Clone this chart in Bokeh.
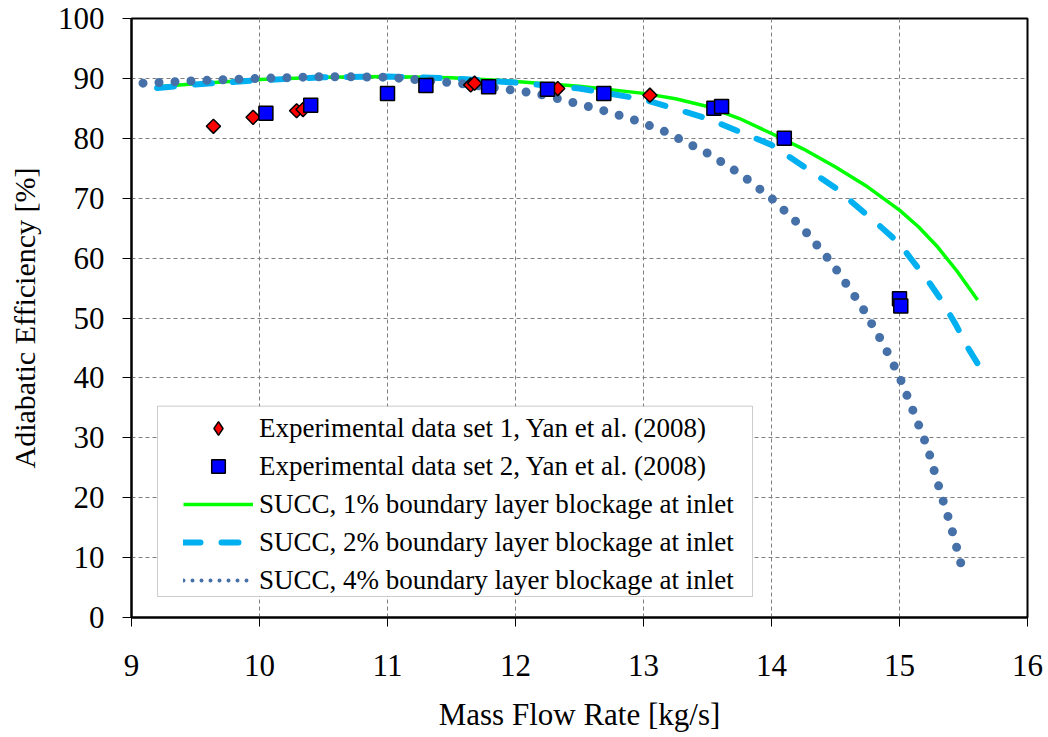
import numpy as np
from bokeh.plotting import figure
from bokeh.models import (Range1d, FixedTicker, Legend, LegendItem,
                          BoxAnnotation, ColumnDataSource)
from bokeh.embed import file_html
from bokeh.resources import INLINE

# ---------------- data ----------------
x_ticks = [9, 10, 11, 12, 13, 14, 15, 16]
y_ticks = [0, 10, 20, 30, 40, 50, 60, 70, 80, 90, 100]

set1_x = [9.64, 9.95, 10.29, 10.34, 11.65, 11.68, 12.33, 13.05]
set1_y = [82.0, 83.5, 84.6, 84.8, 88.9, 89.2, 88.3, 87.2]

set2_x = [10.05, 10.40, 11.00, 11.30, 11.79, 12.25, 12.69, 13.55, 13.61, 14.10, 15.00, 15.01]
set2_y = [84.2, 85.5, 87.5, 88.8, 88.6, 88.2, 87.5, 85.0, 85.3, 80.0, 53.2, 52.0]

c1_x = [9.2, 9.5, 10.0, 10.5, 11.0, 11.5, 12.0, 12.5, 13.0, 13.25, 13.5, 13.75, 14.0, 14.25, 14.5,
        14.75, 15.0, 15.15, 15.3, 15.45, 15.61]
c1_y = [88.6, 89.1, 89.8, 90.2, 90.3, 90.1, 89.5, 88.7, 87.5, 86.6, 85.3, 83.3, 80.8, 78.2, 75.2,
        71.9, 68.0, 65.2, 61.8, 57.8, 53.0]

c2_x = [9.2, 9.5, 10.0, 10.5, 11.0, 11.5, 12.0, 12.5, 13.0, 13.5, 14.0, 14.5, 14.85, 15.0, 15.1,
        15.22, 15.32, 15.44, 15.53, 15.61]
c2_y = [88.4, 89.0, 89.7, 90.2, 90.3, 90.0, 89.3, 88.3, 86.5, 83.3, 78.9, 71.7, 65.3, 62.4, 59.6,
        56.3, 53.2, 48.9, 45.2, 42.4]

c3_x = [9.09, 9.5, 10.0, 10.5, 11.0, 11.43, 11.55, 11.92, 12.16, 12.41, 12.66, 12.91, 13.15, 13.39, 13.51,
        13.76, 14.0, 14.24, 14.47, 14.7, 14.87, 15.0, 15.11, 15.22, 15.32, 15.4, 15.48]
c3_y = [89.2, 89.6, 90.0, 90.3, 90.2, 89.4, 89.2, 88.2, 87.5, 86.2, 84.8, 83.2, 81.3, 78.7, 77.4,
        74.0, 70.0, 65.1, 59.2, 52.1, 45.8, 40.2, 34.3, 28.3, 20.9, 15.4, 9.0]

labels = [
    "Experimental data set 1, Yan et al. (2008)",
    "Experimental data set 2, Yan et al. (2008)",
    "SUCC, 1% boundary layer blockage at inlet",
    "SUCC, 2% boundary layer blockage at inlet",
    "SUCC, 4% boundary layer blockage at inlet",
]
x_title = "Mass Flow Rate [kg/s]"
y_title = "Adiabatic Efficiency [%]"

FONT = "Liberation Serif"

p = figure(width=1048, height=737, x_range=Range1d(9, 16), y_range=Range1d(0, 100),
           output_backend="svg", toolbar_location=None,
           min_border_left=131, min_border_right=21, min_border_top=18, min_border_bottom=120)
p.background_fill_color = "white"
p.border_fill_color = "white"
p.outline_line_color = "black"
p.outline_line_width = 2

# grids
for g in (p.xgrid, p.ygrid):
    g.grid_line_color = "#808080"
    g.grid_line_dash = "4 3"
    g.grid_line_width = 1
p.xgrid.ticker = FixedTicker(ticks=x_ticks)
p.ygrid.ticker = FixedTicker(ticks=y_ticks)

# axes
p.xaxis.ticker = FixedTicker(ticks=x_ticks)
p.yaxis.ticker = FixedTicker(ticks=y_ticks)
for ax in (p.xaxis, p.yaxis):
    ax.axis_line_color = "black"
    ax.axis_line_width = 2
    ax.major_tick_line_color = "black"
    ax.major_tick_line_width = 1
    ax.major_tick_in = 0
    ax.major_tick_out = 9
    ax.minor_tick_line_color = None
    ax.major_label_text_font = FONT
    ax.major_label_text_font_style = "normal"
    ax.major_label_text_font_size = "31px"
    ax.major_label_text_color = "black"
    ax.axis_label_text_font = FONT
    ax.axis_label_text_font_style = "normal"
    ax.axis_label_text_color = "black"
p.xaxis.major_label_standoff = 28
p.yaxis.major_label_standoff = 18
p.xaxis.axis_label = x_title
p.xaxis.axis_label_text_font_size = "31px"
p.xaxis.axis_label_standoff = 18
p.yaxis.axis_label = y_title
p.yaxis.axis_label_text_font_size = "30px"
p.yaxis.axis_label_standoff = 14

# curves
r1 = p.line(c1_x, c1_y, line_color="#00FF00", line_width=3.5)
r2 = p.line(c2_x, c2_y, line_color="#00B0F0", line_width=6, line_dash="17 21", line_cap="round")
r3 = p.line(c3_x, c3_y, line_color="#4670A8", line_width=9, line_dash="0 16", line_cap="round")
nan_src = ColumnDataSource(data=dict(x=[np.nan], y=[np.nan]))
r3_leg = p.line(x="x", y="y", source=nan_src,
                line_color="#4670A8", line_width=4, line_dash="0 9", line_cap="round")

# markers
m1 = p.scatter(set1_x, set1_y, marker="square", angle=np.pi / 4, size=10,
               fill_color="#FF0000", line_color="black", line_width=1.5)
m2 = p.scatter(set2_x, set2_y, marker="square", size=14,
               fill_color="#0000FF", line_color="black", line_width=1.5)
m1_leg = p.scatter(x="x", y="y", source=nan_src, marker="diamond", size=14,
                   fill_color="#FF0000", line_color="black", line_width=1.5)

# legend box
box = BoxAnnotation(left=9.203, right=13.852, bottom=3.51, top=35.28,
                    fill_color="white", fill_alpha=1.0,
                    line_color="#555555", line_width=1)
p.add_layout(box)

legend = Legend(items=[
    LegendItem(label=labels[0], renderers=[m1_leg]),
    LegendItem(label=labels[1], renderers=[m2]),
    LegendItem(label=labels[2], renderers=[r1]),
    LegendItem(label=labels[3], renderers=[r2]),
    LegendItem(label=labels[4], renderers=[r3_leg]),
], location=(52, 20), margin=0, padding=0, spacing=4,
    label_height=34, glyph_height=34, glyph_width=70, label_standoff=6,
    label_text_font=FONT, label_text_font_size="27px", label_text_color="black",
    background_fill_alpha=0, border_line_alpha=0)
p.add_layout(legend)

open("out.html", "w").write(file_html(p, INLINE))
